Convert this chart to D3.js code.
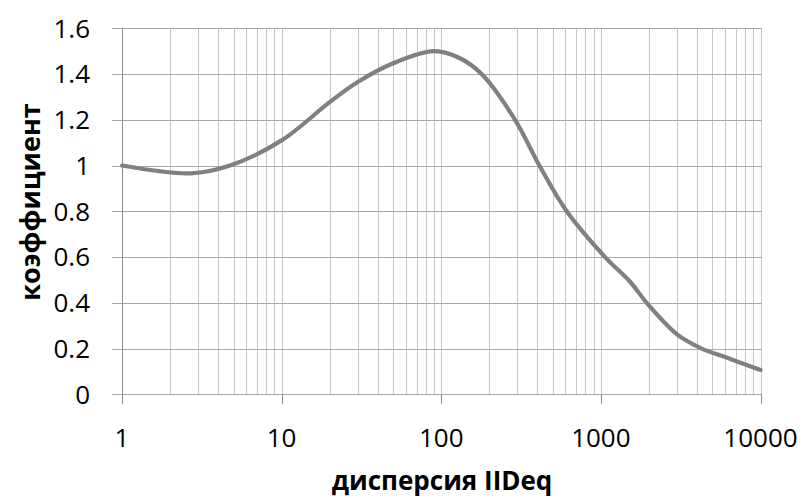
<!DOCTYPE html>
<html>
<head>
<meta charset="utf-8">
<script src="https://cdn.jsdelivr.net/npm/d3@7"></script>
<style>
  html, body { margin: 0; padding: 0; background: #fff; }
  svg { display: block; }
  text { font-family: "Open Sans", "DejaVu Sans", sans-serif; fill: #000; }
</style>
</head>
<body>
<svg id="chart" width="807" height="498"></svg>
<script>
// ---- data ----
const dispersion = [1, 2.7, 4.75, 10, 20, 30, 50, 90, 131, 179, 290, 412, 611, 1062, 1524, 1937, 3000, 4285, 6000, 10000];
const coefficient = [1.0, 0.966, 1.0, 1.11, 1.277, 1.365, 1.447, 1.5, 1.469, 1.4, 1.2, 1.0, 0.8, 0.6, 0.492, 0.4, 0.262, 0.2, 0.163, 0.106];
const xTickValues = [1, 10, 100, 1000, 10000];
const xTickLabels = ["1", "10", "100", "1000", "10000"];
const yTickValues = [0, 0.2, 0.4, 0.6, 0.8, 1.0, 1.2, 1.4, 1.6];
const yTickLabels = ["0", "0.2", "0.4", "0.6", "0.8", "1", "1.2", "1.4", "1.6"];
const xTitle = "дисперсия IIDeq";
const yTitle = "коэффициент";

// ---- layout ----
const svg = d3.select("#chart");
const x = d3.scaleLog().domain([1, 10000]).range([122, 760.5]);
const y = d3.scaleLinear().domain([0, 1.6]).range([394.3, 28.3]);

// minor/major vertical grid positions
const vGrid = [];
for (let e = 0; e < 4; e++) {
  for (let m = 1; m <= 9; m++) vGrid.push(m * Math.pow(10, e));
}
vGrid.push(10000);

const g = svg.append("g").attr("shape-rendering", "crispEdges");

g.selectAll("line.vg").data(vGrid.filter(d => d !== 1)).enter().append("line")
  .attr("class", "vg")
  .attr("x1", d => Math.round(x(d)) + 0.5).attr("x2", d => Math.round(x(d)) + 0.5)
  .attr("y1", y(1.6)).attr("y2", y(0))
  .attr("stroke", "#c6c6c6").attr("stroke-width", 1);

g.selectAll("line.hg").data(yTickValues).enter().append("line")
  .attr("class", "hg")
  .attr("x1", 112).attr("x2", x(10000) + 1)
  .attr("y1", d => Math.round(y(d)) + 0.5).attr("y2", d => Math.round(y(d)) + 0.5)
  .attr("stroke", "#a8a8a8").attr("stroke-width", 1);

// y axis line
g.append("line")
  .attr("x1", Math.round(x(1)) + 0.5).attr("x2", Math.round(x(1)) + 0.5)
  .attr("y1", y(1.6)).attr("y2", y(0) + 1)
  .attr("stroke", "#8c8c8c").attr("stroke-width", 1);

// x axis major ticks
g.selectAll("line.xt").data(xTickValues).enter().append("line")
  .attr("class", "xt")
  .attr("x1", d => Math.round(x(d)) + 0.5).attr("x2", d => Math.round(x(d)) + 0.5)
  .attr("y1", y(0)).attr("y2", y(0) + 10)
  .attr("stroke", "#8c8c8c").attr("stroke-width", 1);

// tick labels
svg.selectAll("text.yl").data(yTickValues).enter().append("text")
  .attr("class", "yl")
  .attr("x", 90).attr("y", d => y(d))
  .attr("dy", "0.36em")
  .attr("text-anchor", "end")
  .attr("font-size", 26)
  .text((d, i) => yTickLabels[i]);

svg.selectAll("text.xl").data(xTickValues).enter().append("text")
  .attr("class", "xl")
  .attr("x", d => x(d)).attr("y", 446.5)
  .attr("text-anchor", "middle")
  .attr("font-size", 26)
  .text((d, i) => xTickLabels[i]);

// axis titles
svg.append("text")
  .attr("x", 442).attr("y", 490)
  .attr("text-anchor", "middle")
  .attr("font-size", 26).attr("font-weight", "bold")
  .text(xTitle);

svg.append("text")
  .attr("transform", "translate(40,202) rotate(-90)")
  .attr("text-anchor", "middle")
  .attr("font-size", 27).attr("font-weight", "bold")
  .text(yTitle);

// curve
const pts = dispersion.map((d, i) => [d, coefficient[i]]);
const line = d3.line()
  .x(d => x(d[0])).y(d => y(d[1]))
  .curve(d3.curveCatmullRom.alpha(0.5));

svg.append("path")
  .datum(pts)
  .attr("d", line)
  .attr("fill", "none")
  .attr("stroke", "#808080")
  .attr("stroke-width", 4.2)
  .attr("stroke-linecap", "round")
  .attr("stroke-linejoin", "round");
</script>
</body>
</html>
